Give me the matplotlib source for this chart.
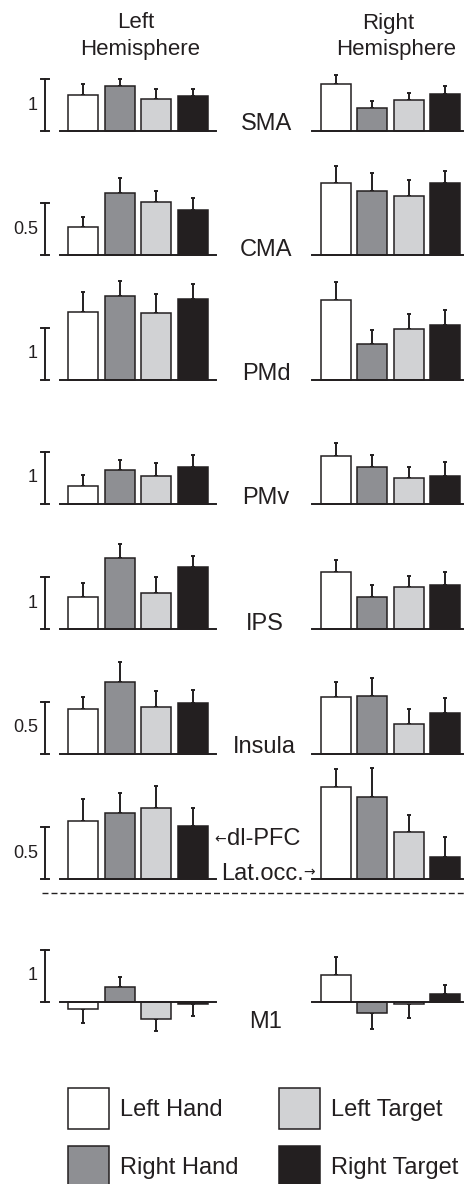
import numpy as np
import matplotlib.pyplot as plt
from matplotlib.patches import Rectangle

plt.rcParams['font.family'] = ['Liberation Sans', 'DejaVu Sans']

# conditions and regions
conditions = ['Left Hand', 'Right Hand', 'Left Target', 'Right Target']
colors = ['#ffffff', '#8e8f93', '#d1d2d4', '#231f20']
regions = ['SMA', 'CMA', 'PMd', 'PMv', 'IPS', 'Insula', 'dl-PFC', 'M1']
scale_values = [1, 0.5, 1, 1, 1, 0.5, 0.5, 1]
scale_labels = ['1', '0.5', '1', '1', '1', '0.5', '0.5', '1']

# bar heights, order: Left Hand, Right Hand, Left Target, Right Target
left_means = [
    [0.69, 0.87, 0.62, 0.67],
    [0.27, 0.60, 0.51, 0.43],
    [1.31, 1.62, 1.29, 1.56],
    [0.35, 0.65, 0.54, 0.71],
    [0.62, 1.37, 0.69, 1.19],
    [0.43, 0.69, 0.45, 0.49],
    [0.56, 0.63, 0.68, 0.51],
    [-0.13, 0.29, -0.33, -0.04],
]
left_errs = [
    [0.21, 0.13, 0.19, 0.14],
    [0.10, 0.14, 0.11, 0.12],
    [0.38, 0.29, 0.37, 0.29],
    [0.21, 0.19, 0.25, 0.23],
    [0.27, 0.27, 0.31, 0.21],
    [0.12, 0.19, 0.16, 0.13],
    [0.21, 0.20, 0.21, 0.17],
    [0.27, 0.19, 0.23, 0.23],
]
right_means = [
    [0.90, 0.44, 0.60, 0.71],
    [0.69, 0.62, 0.57, 0.69],
    [1.54, 0.69, 0.98, 1.06],
    [0.92, 0.71, 0.50, 0.54],
    [1.10, 0.62, 0.81, 0.85],
    [0.55, 0.56, 0.29, 0.39],
    [0.88, 0.79, 0.45, 0.21],
    [0.52, -0.22, -0.03, 0.15],
]
right_errs = [
    [0.18, 0.14, 0.13, 0.16],
    [0.17, 0.17, 0.15, 0.12],
    [0.35, 0.27, 0.29, 0.29],
    [0.25, 0.23, 0.21, 0.27],
    [0.23, 0.23, 0.21, 0.25],
    [0.14, 0.17, 0.14, 0.15],
    [0.18, 0.28, 0.17, 0.19],
    [0.35, 0.30, 0.28, 0.18],
]

W, H = 466, 1184
INK = '#231f20'
fig = plt.figure(figsize=(W / 100, H / 100), dpi=100)

baselines = [131, 255, 380, 504, 629, 754, 879, 1002]
px_bar = 52  # pixel length of the scale bar


def px_axes(x0, y0, x1, y1):
    return fig.add_axes([x0 / W, 1 - y1 / H, (x1 - x0) / W, (y1 - y0) / H])


def panel(x0, x1, c0, step, base_y, scale, means, errs, line0, line1):
    ax = px_axes(x0, base_y - 130, x1, base_y + 45)
    ppu = px_bar / scale
    ax.set_xlim((x0 - c0) / step, (x1 - c0) / step)
    ax.set_ylim(-45 / ppu, 130 / ppu)
    ax.axis('off')
    x = np.arange(len(means))
    ax.bar(x, means, width=30 / step, color=colors, edgecolor=INK,
           linewidth=1.1, zorder=2)
    for xi, m, e in zip(x, means, errs):
        yerr = [[0], [e]] if m >= 0 else [[e], [0]]
        ax.errorbar(xi, m, yerr=yerr, fmt='none', ecolor=INK, elinewidth=1.4,
                    capsize=1.2, capthick=1.4, zorder=1, clip_on=False)
    ax.plot([(line0 - c0) / step, (line1 - c0) / step], [0, 0], color=INK,
            lw=1.4, zorder=3, clip_on=False)
    return ax


for i in range(len(regions)):
    base = baselines[i]
    s = scale_values[i]
    axl = panel(0, 232, 83, 36.7, base, s, left_means[i], left_errs[i], 60, 216)
    # scale bar
    sx = (45 - 83) / 36.7
    cw = 4 / 36.7
    axl.plot([sx, sx], [0, s], color=INK, lw=1.4, clip_on=False)
    axl.plot([sx - cw, sx + cw], [0, 0], color=INK, lw=1.4, clip_on=False)
    axl.plot([sx - cw, sx + cw], [s, s], color=INK, lw=1.4, clip_on=False)
    axl.text((38 - 83) / 36.7, s / 2, scale_labels[i], ha='right', va='center',
             fontsize=13, color=INK)
    panel(232, W, 335.5, 36.5, base, s, right_means[i], right_errs[i], 312, 463)

# overlay in pixel coordinates for labels, divider and legend
ov = fig.add_axes([0, 0, 1, 1])
ov.set_xlim(0, W)
ov.set_ylim(H, 0)
ov.axis('off')

ov.text(136, 23, 'Left', ha='center', va='center', fontsize=16, color=INK)
ov.text(140, 50, 'Hemisphere', ha='center', va='center', fontsize=16, color=INK)
ov.text(388, 23, 'Right', ha='center', va='center', fontsize=16, color=INK)
ov.text(396, 50, 'Hemisphere', ha='center', va='center', fontsize=16, color=INK)

label_pos = {'SMA': (267, 130), 'CMA': (266, 256), 'PMd': (266, 380),
             'PMv': (266, 504), 'IPS': (265, 630), 'Insula': (264, 753),
             'M1': (266, 1028)}
for name, (lx, ly) in label_pos.items():
    ov.text(lx, ly, name, ha='center', va='baseline', fontsize=17, color=INK)

# pointer labels with small arrows
ov.text(226, 839, '\u2190', ha='right', va='center', fontsize=10,
        family='DejaVu Sans', color=INK)
ov.text(227, 845, 'dl-PFC', ha='left', va='baseline', fontsize=17, color=INK)
ov.text(304, 880, 'Lat.occ.', ha='right', va='baseline', fontsize=17, color=INK)
ov.text(303, 872, '\u2192', ha='left', va='center', fontsize=10,
        family='DejaVu Sans', color=INK)

ov.plot([42, W], [893, 893], color=INK, lw=1.0, ls=(0, (4.3, 2.2)))

# legend
legend_pos = [(68, 1088), (68, 1146), (279, 1088), (279, 1146)]
for k, (bx, by) in enumerate(legend_pos):
    ov.add_patch(Rectangle((bx, by), 41, 41, facecolor=colors[k],
                           edgecolor=INK, lw=1.1, clip_on=False))
    ov.text(bx + 52, by + 22, conditions[k], ha='left', va='center',
            fontsize=17, color=INK)

fig.savefig('out.png', dpi=100)
